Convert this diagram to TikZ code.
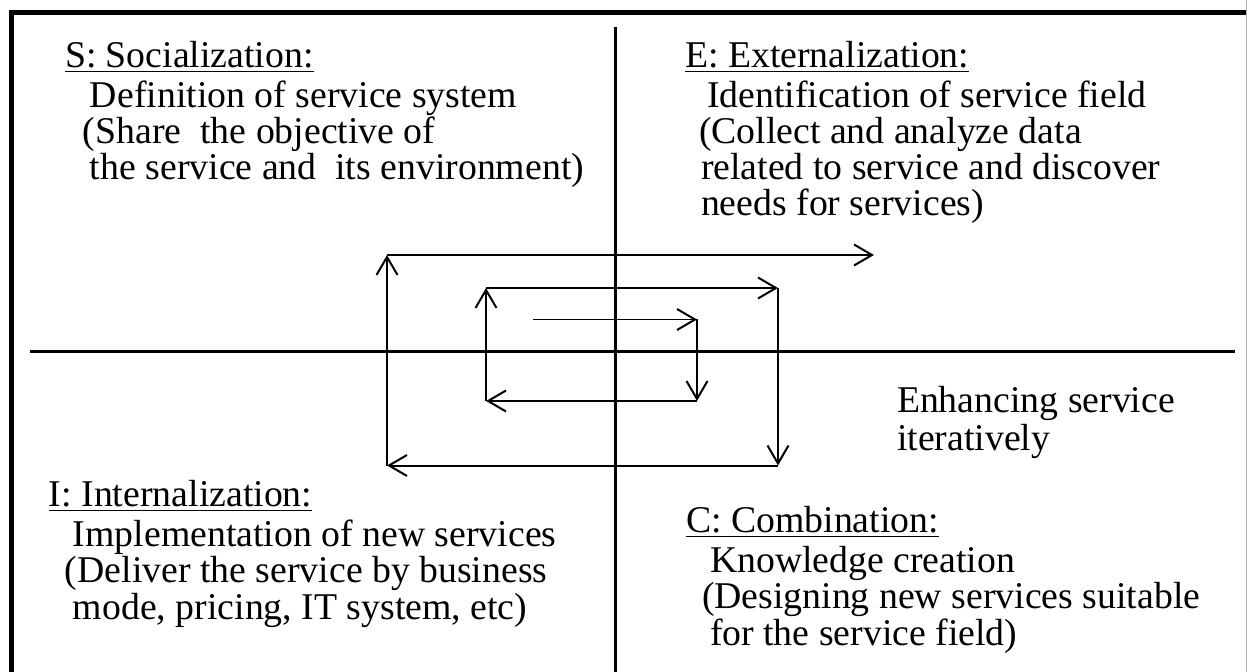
\documentclass[tikz,border=0pt]{standalone}
\usepackage{fontspec}
\setmainfont{Liberation Serif}
\usetikzlibrary{arrows.meta}

\begin{document}
\begin{tikzpicture}[x=0.02cm,y=-0.02cm,
  every node/.style={inner sep=0pt,outer sep=0pt,align=left,anchor=base west,
    font=\fontsize{21.5}{20.5}\selectfont},
  frameline/.style={line width=0.1cm},
  axisline/.style={line width=0.065cm},
  spiral/.style={line width=0.04cm,
    -{Straight Barb[length=0.36cm,width=0.42cm,line width=0.04cm]}}]
\useasboundingbox (0,0) rectangle (1248,672);
% frame and axes
\draw [gray!60,line width=0.02cm] (1246.5,0) -- (1246.5,672);
\draw [frameline] (9.5,12.5) -- (1246,12.5);
\draw [frameline] (11.7,10) -- (11.7,672);
\draw [axisline] (615.7,27) -- (615.7,672);
\draw [axisline] (30,351.7) -- (1235,351.7);
% quadrant texts (base = last line)
\node (soc) at (65,180) {\underline{S: Socialization:}\\[2.3pt]
  \hspace*{5mm}Definition of service system\\
  \hspace*{3.6mm}(Share\ \ the objective of\\
  \hspace*{5mm}the service and\ \ its environment)};
\node (ext) at (685,216) {\underline{E: Externalization:}\\[2.3pt]
  \hspace*{4.4mm}Identification of service field\\
  \hspace*{2.8mm}(Collect and analyze data\\
  \hspace*{3.2mm}related to service and discover\\
  \hspace*{3.2mm}needs for services)};
\node (int) at (49,619) {\underline{I: Internalization:}\\[2.3pt]
  \hspace*{4.8mm}Implementation of new services\\
  \hspace*{3.2mm}(Deliver the service by business\\
  \hspace*{4.8mm}mode, pricing, IT system, etc)};
\node (comb) at (686,645) {\underline{C: Combination:}\\[2.3pt]
  \hspace*{4.8mm}Knowledge creation\\
  \hspace*{3.2mm}(Designing new services suitable\\
  \hspace*{4.8mm}for the service field)};
\node (enh) at (897,450) {Enhancing service\\[1.1pt]iteratively};
% spiral
\coordinate (p0) at (533,319.5);
\coordinate (p1) at (697,319.5);
\coordinate (p2) at (697,401);
\coordinate (p3) at (486,401);
\coordinate (p4) at (486,288);
\coordinate (p5) at (778,288);
\coordinate (p6) at (778,465.5);
\coordinate (p7) at (387,465.5);
\coordinate (p8) at (387,255);
\coordinate (p9) at (874,255);
\draw [spiral] (p0) -- (p1);
\draw [spiral] (p1) -- (p2);
\draw [spiral] (p2) -- (p3);
\draw [spiral] (p3) -- (p4);
\draw [spiral] (p4) -- (p5);
\draw [spiral] (p5) -- (p6);
\draw [spiral] (p6) -- (p7);
\draw [spiral] (p7) -- (p8);
\draw [spiral] (p8) -- (p9);
\end{tikzpicture}
\end{document}
